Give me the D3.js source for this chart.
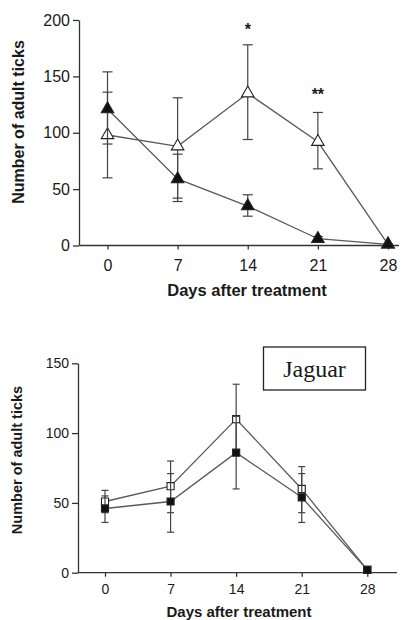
<!DOCTYPE html>
<html>
<head>
<meta charset="utf-8">
<script src="https://cdn.jsdelivr.net/npm/d3@7"></script>
<style>
  body { margin: 0; background: #fff; }
  svg { display: block; }
  text { font-family: "Liberation Sans", Arial, sans-serif; fill: #1a1a1a; }
</style>
</head>
<body>
<script>
// shared x categories
const days = [0, 7, 14, 21, 28];

// top panel: open triangles (control) and filled triangles (treated)
const topOpen   = [98, 88, 135, 92, 1];
const topOpenHi = [136, 131, 178, 118, 1];
const topOpenLo = [60, 42, 94, 68, 1];
const topFill   = [121, 59, 35, 6, 1];
const topFillHi = [154, 81, 45, 8, 1];
const topFillLo = [90, 39, 26, 4, 1];
const topTicks  = [0, 50, 100, 150, 200];
const topStars  = [{ day: 14, label: "*", value: 195 }, { day: 21, label: "**", value: 137 }];

// bottom panel: open squares and filled squares
const botOpen   = [51, 62, 110, 60, 2];
const botOpenHi = [59, 80, 135, 76, 2];
const botOpenLo = [43, 43, 85, 43, 2];
const botFill   = [46, 51, 86, 54, 2];
const botFillHi = [55, 71, 112, 71, 2];
const botFillLo = [36, 29, 60, 36, 2];
const botTicks  = [0, 50, 100, 150];

const svg = d3.select("body").append("svg")
    .attr("width", 404)
    .attr("height", 620);

function panel(opt) {
    const x = d3.scaleLinear().domain([0, 28]).range(opt.xr);
    const y = d3.scaleLinear().domain([0, opt.ymax]).range(opt.yr);
    const g = svg.append("g");

    // y axis
    const ya = g.append("g")
        .attr("transform", "translate(" + opt.axisX + ",0)")
        .call(d3.axisLeft(y).tickValues(opt.ticks).tickSize(opt.tick).tickSizeOuter(0));
    ya.selectAll("text").style("font-size", opt.fs + "px");
    ya.selectAll("line, path").attr("stroke", "#333").attr("stroke-width", 1.3);

    // x axis
    const xa = g.append("g")
        .attr("transform", "translate(0," + y(0) + ")")
        .call(d3.axisBottom(x).tickValues(days).tickSize(4));
    xa.select(".domain").remove();
    xa.selectAll("text").style("font-size", opt.fs + "px").attr("dy", opt.xdy);
    xa.selectAll("line").attr("stroke", "#333").attr("stroke-width", 1.3);
    g.append("line")
        .attr("x1", opt.axisX).attr("x2", opt.axisEnd)
        .attr("y1", y(0)).attr("y2", y(0))
        .attr("stroke", "#333").attr("stroke-width", 1.3);

    // axis titles
    g.append("text")
        .attr("transform", "translate(" + opt.ytX + "," + opt.ytY + ") rotate(-90)")
        .attr("text-anchor", "middle")
        .style("font-size", opt.tfs + "px")
        .style("font-weight", "bold")
        .text("Number of adult ticks");
    g.append("text")
        .attr("x", opt.xtX).attr("y", opt.xtY)
        .attr("text-anchor", "middle")
        .style("font-size", opt.xfs + "px")
        .style("font-weight", "bold")
        .text("Days after treatment");

    // series: lines, error bars, markers
    opt.series.forEach(s => {
        const line = d3.line().x((d, i) => x(days[i])).y(d => y(d));
        g.append("path")
            .attr("d", line(s.v))
            .attr("fill", "none")
            .attr("stroke", "#5a5a5a")
            .attr("stroke-width", 1.3);

        days.forEach((d, i) => {
            const cx = x(d);
            g.append("line")
                .attr("x1", cx).attr("x2", cx)
                .attr("y1", y(s.hi[i])).attr("y2", y(s.lo[i]))
                .attr("stroke", "#444").attr("stroke-width", 1.2);
            [s.hi[i], s.lo[i]].forEach(e => {
                g.append("line")
                    .attr("x1", cx - opt.cap).attr("x2", cx + opt.cap)
                    .attr("y1", y(e)).attr("y2", y(e))
                    .attr("stroke", "#444").attr("stroke-width", 1.2);
            });
        });

        g.selectAll(null)
            .data(s.v)
            .enter().append("path")
            .attr("transform", (d, i) => "translate(" + x(days[i]) + "," + y(d) + ")")
            .attr("d", d3.symbol().type(opt.symbol).size(opt.symSize))
            .attr("fill", s.filled ? "#111" : "#fff")
            .attr("stroke", "#222")
            .attr("stroke-width", 1.1);
    });

    return { x, y, g };
}

const topPanel = panel({
    xr: [107.5, 388], yr: [245.5, 20], ymax: 200,
    ticks: topTicks, axisX: 79, axisEnd: 399, tick: 6,
    fs: 16, tfs: 16, xfs: 16.5, xdy: "1.15em",
    ytX: 24, ytY: 122, xtX: 247, xtY: 296,
    cap: 5, symbol: d3.symbolTriangle, symSize: 68,
    series: [
        { v: topOpen, hi: topOpenHi, lo: topOpenLo, filled: false },
        { v: topFill, hi: topFillHi, lo: topFillLo, filled: true }
    ]
});

topPanel.g.selectAll(".star")
    .data(topStars)
    .enter().append("text")
    .attr("x", d => topPanel.x(d.day))
    .attr("y", d => topPanel.y(d.value) + 9)
    .attr("text-anchor", "middle")
    .style("font-size", "16px")
    .style("font-weight", "bold")
    .text(d => d.label);

const botPanel = panel({
    xr: [105, 367.3], yr: [572.7, 363.3], ymax: 150,
    ticks: botTicks, axisX: 78, axisEnd: 397, tick: 6,
    fs: 14, tfs: 14.5, xfs: 15, xdy: "1.02em",
    ytX: 22, ytY: 460, xtX: 239, xtY: 617,
    cap: 3.5, symbol: d3.symbolSquare, symSize: 50,
    series: [
        { v: botOpen, hi: botOpenHi, lo: botOpenLo, filled: false },
        { v: botFill, hi: botFillHi, lo: botFillLo, filled: true }
    ]
});

// "Jaguar" label box
botPanel.g.append("rect")
    .attr("x", 263.5).attr("y", 347)
    .attr("width", 102).attr("height", 43)
    .attr("fill", "#fff")
    .attr("stroke", "#222")
    .attr("stroke-width", 1.3);
botPanel.g.append("text")
    .attr("x", 314.5).attr("y", 377)
    .attr("text-anchor", "middle")
    .style("font-family", "'Liberation Serif', 'Times New Roman', serif")
    .style("font-size", "24px")
    .text("Jaguar");
</script>
</body>
</html>
